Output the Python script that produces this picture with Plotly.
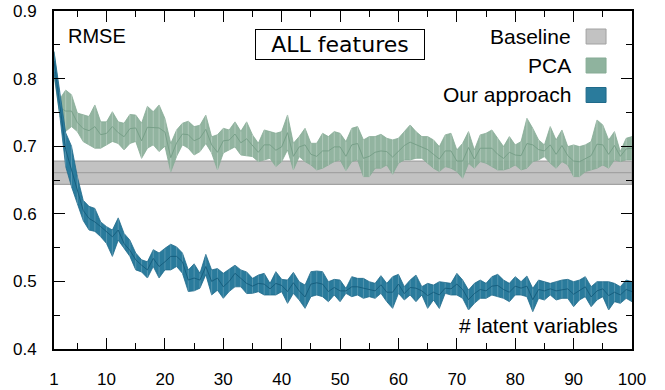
import plotly.graph_objects as go

# ---------------- data ----------------
latent = list(range(1, 101))

baseline_mean = 0.661
baseline_lo = 0.6436
baseline_hi = 0.678

pca_hi = [0.840, 0.770, 0.783, 0.776, 0.749, 0.746, 0.744, 0.761, 0.736, 0.736,
          0.751, 0.736, 0.734, 0.747, 0.746, 0.734, 0.759, 0.751, 0.761, 0.741,
          0.704, 0.724, 0.734, 0.737, 0.729, 0.731, 0.746, 0.714, 0.717, 0.7265,
          0.724, 0.736, 0.722, 0.736, 0.7167, 0.7043, 0.724, 0.7216, 0.7191, 0.7216,
          0.7462, 0.7043, 0.7142, 0.7265, 0.7043, 0.7043, 0.7191, 0.7142, 0.7216, 0.7191,
          0.7068, 0.7265, 0.729, 0.7093, 0.7142, 0.7142, 0.7176, 0.7117, 0.7093, 0.7117,
          0.7216, 0.7314, 0.7216, 0.7142, 0.7142, 0.7093, 0.6994, 0.7167, 0.7191, 0.6945,
          0.7043, 0.7216, 0.6945, 0.7167, 0.7191, 0.724, 0.7117, 0.6994, 0.7142, 0.7019,
          0.7068, 0.7413, 0.7265, 0.7093, 0.7019, 0.729, 0.7093, 0.724, 0.6994, 0.7019,
          0.6994, 0.7019, 0.7068, 0.7388, 0.7314, 0.7093, 0.7216, 0.692, 0.7117, 0.7142]
pca_lo = [0.805, 0.745, 0.722, 0.729, 0.7216, 0.7068, 0.702, 0.697, 0.697, 0.702,
          0.707, 0.704, 0.6945, 0.704, 0.707, 0.682, 0.697, 0.702, 0.692, 0.700,
          0.662, 0.685, 0.702, 0.697, 0.687, 0.692, 0.704, 0.690, 0.665, 0.690,
          0.694, 0.699, 0.687, 0.686, 0.6846, 0.6772, 0.6797, 0.6821, 0.6698, 0.6772,
          0.6945, 0.6649, 0.6846, 0.6772, 0.6723, 0.6649, 0.6674, 0.6723, 0.6772, 0.6797,
          0.6639, 0.6772, 0.6797, 0.655, 0.655, 0.6674, 0.6674, 0.6723, 0.6585, 0.6748,
          0.6797, 0.6797, 0.6821, 0.6821, 0.6748, 0.6674, 0.6624, 0.6698, 0.6674, 0.6624,
          0.6526, 0.6748, 0.6674, 0.6772, 0.6748, 0.6698, 0.6649, 0.6649, 0.6674, 0.6723,
          0.6649, 0.6674, 0.6772, 0.6797, 0.6846, 0.6748, 0.6674, 0.6772, 0.6723, 0.655,
          0.655, 0.6624, 0.6649, 0.6674, 0.6723, 0.6674, 0.6797, 0.6772, 0.6797, 0.6797]
pca_mean = [0.825, 0.757, 0.752, 0.752, 0.735, 0.726, 0.723, 0.729, 0.717, 0.719,
            0.729, 0.720, 0.714, 0.726, 0.727, 0.708, 0.728, 0.727, 0.727, 0.721,
            0.683, 0.705, 0.718, 0.717, 0.708, 0.712, 0.725, 0.702, 0.691, 0.708,
            0.709, 0.718, 0.705, 0.711, 0.701, 0.691, 0.702, 0.702, 0.694, 0.699,
            0.720, 0.685, 0.699, 0.702, 0.688, 0.685, 0.693, 0.693, 0.699, 0.699,
            0.685, 0.702, 0.704, 0.682, 0.685, 0.691, 0.693, 0.692, 0.684, 0.693,
            0.701, 0.706, 0.702, 0.698, 0.695, 0.688, 0.681, 0.693, 0.693, 0.678,
            0.678, 0.698, 0.681, 0.697, 0.697, 0.697, 0.688, 0.682, 0.691, 0.687,
            0.686, 0.704, 0.702, 0.695, 0.693, 0.702, 0.688, 0.701, 0.686, 0.678,
            0.677, 0.682, 0.686, 0.703, 0.702, 0.688, 0.701, 0.685, 0.696, 0.697]

our_hi = [0.840, 0.780, 0.720, 0.700, 0.655, 0.620, 0.611, 0.608, 0.588, 0.581,
          0.576, 0.594, 0.571, 0.561, 0.542, 0.532, 0.529, 0.547, 0.542, 0.549,
          0.555, 0.551, 0.542, 0.517, 0.526, 0.512, 0.540, 0.517, 0.519, 0.512,
          0.518, 0.524, 0.517, 0.514, 0.5045, 0.5094, 0.5119, 0.4971, 0.5144, 0.503,
          0.502, 0.5134, 0.4996, 0.4946, 0.5144, 0.5154, 0.5144, 0.4996, 0.503, 0.502,
          0.4897, 0.507, 0.5045, 0.5045, 0.4996, 0.4971, 0.5085, 0.4971, 0.507, 0.5104,
          0.4922, 0.502, 0.5094, 0.4922, 0.4971, 0.4946, 0.4996, 0.4981, 0.4971, 0.5119,
          0.502, 0.4873, 0.4971, 0.502, 0.4971, 0.507, 0.5104, 0.502, 0.4971, 0.507,
          0.4996, 0.508, 0.4897, 0.502, 0.4996, 0.4971, 0.4996, 0.502, 0.503, 0.4996,
          0.502, 0.507, 0.4922, 0.4996, 0.4996, 0.4996, 0.4971, 0.4922, 0.502, 0.4996]
our_lo = [0.810, 0.745, 0.670, 0.640, 0.615, 0.590, 0.576, 0.574, 0.566, 0.556,
          0.537, 0.561, 0.549, 0.537, 0.517, 0.514, 0.505, 0.522, 0.505, 0.517,
          0.517, 0.522, 0.512, 0.485, 0.486, 0.490, 0.510, 0.480, 0.487, 0.475,
          0.485, 0.492, 0.492, 0.482, 0.4823, 0.4848, 0.4799, 0.4799, 0.4799, 0.4848,
          0.4675, 0.4823, 0.4725, 0.4601, 0.4774, 0.4799, 0.4774, 0.470, 0.4799, 0.470,
          0.4823, 0.4774, 0.4799, 0.4749, 0.4774, 0.4749, 0.4823, 0.470, 0.4601, 0.4823,
          0.4725, 0.4799, 0.470, 0.4799, 0.4601, 0.4725, 0.460, 0.4823, 0.4799, 0.4799,
          0.4749, 0.4577, 0.4675, 0.4749, 0.4749, 0.4799, 0.4774, 0.4749, 0.470, 0.4799,
          0.4799, 0.4774, 0.4552, 0.4749, 0.4725, 0.4799, 0.4725, 0.4749, 0.4749, 0.4626,
          0.4725, 0.4774, 0.4626, 0.4725, 0.4774, 0.4577, 0.470, 0.4675, 0.4749, 0.470]
our_mean = [0.826, 0.762, 0.695, 0.665, 0.635, 0.605, 0.593, 0.588, 0.581, 0.574,
            0.566, 0.576, 0.556, 0.546, 0.532, 0.524, 0.517, 0.534, 0.522, 0.529,
            0.537, 0.537, 0.529, 0.502, 0.505, 0.502, 0.522, 0.500, 0.505, 0.492,
            0.500, 0.512, 0.505, 0.497, 0.493, 0.497, 0.496, 0.489, 0.497, 0.494,
            0.485, 0.498, 0.486, 0.477, 0.496, 0.498, 0.496, 0.485, 0.491, 0.486,
            0.486, 0.492, 0.492, 0.490, 0.489, 0.486, 0.495, 0.484, 0.484, 0.496,
            0.482, 0.491, 0.490, 0.486, 0.479, 0.484, 0.480, 0.490, 0.489, 0.496,
            0.488, 0.473, 0.482, 0.488, 0.486, 0.493, 0.494, 0.488, 0.484, 0.493,
            0.490, 0.493, 0.473, 0.488, 0.486, 0.489, 0.486, 0.488, 0.489, 0.481,
            0.487, 0.492, 0.477, 0.486, 0.489, 0.479, 0.484, 0.480, 0.488, 0.485]

x_tickvals = [1, 10, 20, 30, 40, 50, 60, 70, 80, 90, 100]
x_ticktext = ["1", "10", "20", "30", "40", "50", "60", "70", "80", "90", "100"]
x_minor = [5, 15, 25, 35, 45, 55, 65, 75, 85, 95]
y_tickvals = [0.4, 0.5, 0.6, 0.7, 0.8, 0.9]
y_ticktext = ["0.4", "0.5", "0.6", "0.7", "0.8", "0.9"]
y_minor = [0.45, 0.55, 0.65, 0.75, 0.85]

legend_labels = ["Baseline", "PCA", "Our approach"]

# ---------------- styles ----------------
GRAY_FILL, GRAY_LINE = "#c2c2c2", "#a2a2a2"
GREEN_FILL, GREEN_LINE, GREEN_MID = "rgba(137,174,152,0.92)", "#86ab95", "#78a089"
BLUE_FILL, BLUE_LINE, BLUE_MID = "#2a7b9c", "#1f6a8a", "#175f7f"
FONT = "Liberation Sans, Arial, sans-serif"

fig = go.Figure()

# baseline band
xb = [latent[0], latent[-1]]
fig.add_trace(go.Scatter(x=xb + xb[::-1], y=[baseline_hi, baseline_hi, baseline_lo, baseline_lo],
                         fill="toself", fillcolor=GRAY_FILL, mode="lines",
                         line=dict(color=GRAY_LINE, width=1.2), hoverinfo="skip", showlegend=False))
fig.add_trace(go.Scatter(x=xb, y=[baseline_mean, baseline_mean], mode="lines",
                         line=dict(color=GRAY_LINE, width=1.2), showlegend=False))


def add_band(lo, hi, mean, fill, edge, mid, stripe):
    fig.add_trace(go.Scatter(x=latent + latent[::-1], y=hi + lo[::-1], fill="toself",
                             fillcolor=fill, mode="lines", line=dict(color=edge, width=0.8),
                             hoverinfo="skip", showlegend=False))
    sx, sy = [], []
    for xi, l, h in zip(latent, lo, hi):
        sx += [xi, xi, None]
        sy += [l, h, None]
    fig.add_trace(go.Scatter(x=sx, y=sy, mode="lines", line=dict(color=stripe, width=1),
                             hoverinfo="skip", showlegend=False))
    fig.add_trace(go.Scatter(x=latent, y=mean, mode="lines", line=dict(color=mid, width=1),
                             showlegend=False))


add_band(pca_lo, pca_hi, pca_mean, GREEN_FILL, GREEN_LINE, GREEN_MID, "rgba(255,255,255,0.28)")
add_band(our_lo, our_hi, our_mean, BLUE_FILL, BLUE_LINE, BLUE_MID, "rgba(255,255,255,0.2)")

# ---------------- layout ----------------
W, H = 665, 390
L, R, T, B = 53.5, 32.5, 11, 41
pw, ph = W - L - R, H - T - B


def px(xp):  # page pixel -> paper
    return (xp - L) / pw


def py(yp):
    return 1 - (yp - T) / ph


annotations = [
    dict(text="RMSE", x=px(66), y=py(36), xanchor="left", yanchor="middle",
         font=dict(size=20, family=FONT, color="black")),
    dict(text="ALL features", x=px(340), y=py(45), xanchor="center", yanchor="middle",
         font=dict(size=22, family="DejaVu Sans", color="black"),
         bordercolor="black", borderwidth=1, borderpad=1, width=166, height=27,
         bgcolor="white"),
    dict(text="# latent variables", x=px(620), y=py(325), xanchor="right", yanchor="middle",
         font=dict(size=21, family=FONT, color="black")),
]
row_y = [36.5, 65.5, 95]
sw_fill = [GRAY_FILL, "#8fb39e", BLUE_FILL]
sw_line = [GRAY_LINE, GREEN_LINE, BLUE_LINE]
shapes = []
for lab, yc, f, ln in zip(legend_labels, row_y, sw_fill, sw_line):
    annotations.append(dict(text=lab, x=px(573), y=py(yc), xanchor="right", yanchor="middle",
                            font=dict(size=21, family=FONT, color="black")))
    shapes.append(dict(type="rect", xref="paper", yref="paper", x0=px(586.5), x1=px(606.5),
                       y0=py(yc + 7.5), y1=py(yc - 7.5), fillcolor=f, line=dict(color=ln, width=1)))

for a in annotations:
    a.update(xref="paper", yref="paper", showarrow=False)

axis_common = dict(showline=True, linecolor="black", linewidth=2, mirror="allticks",
                   ticks="inside", ticklen=11, tickwidth=1.3, tickcolor="black",
                   showgrid=False, zeroline=False, automargin=False,
                   ticklabeloverflow="allow",
                   tickfont=dict(size=17, family=FONT, color="black"))

fig.update_layout(
    width=W, height=H, margin=dict(l=L, r=R, t=T, b=B, autoexpand=False),
    paper_bgcolor="white", plot_bgcolor="white",
    font=dict(family=FONT, color="black"),
    xaxis=dict(range=[1, 100], tickmode="array", tickvals=x_tickvals, ticktext=x_ticktext,
               ticklabelstandoff=14,
               minor=dict(tickmode="array", tickvals=x_minor, ticks="inside", ticklen=6,
                          tickwidth=1.3, tickcolor="black"),
               **axis_common),
    yaxis=dict(range=[0.4, 0.9], tickmode="array", tickvals=y_tickvals, ticktext=y_ticktext,
               ticklabelstandoff=12,
               minor=dict(tickmode="array", tickvals=y_minor, ticks="inside", ticklen=6,
                          tickwidth=1.3, tickcolor="black"),
               **axis_common),
    annotations=annotations, shapes=shapes, showlegend=False,
)

# remove the default page margin so the 665x390 figure fills the window exactly
fig.write_html("out.html", config={"displayModeBar": False},
               post_script="document.body.style.margin='0px';document.body.style.overflow='hidden';")
